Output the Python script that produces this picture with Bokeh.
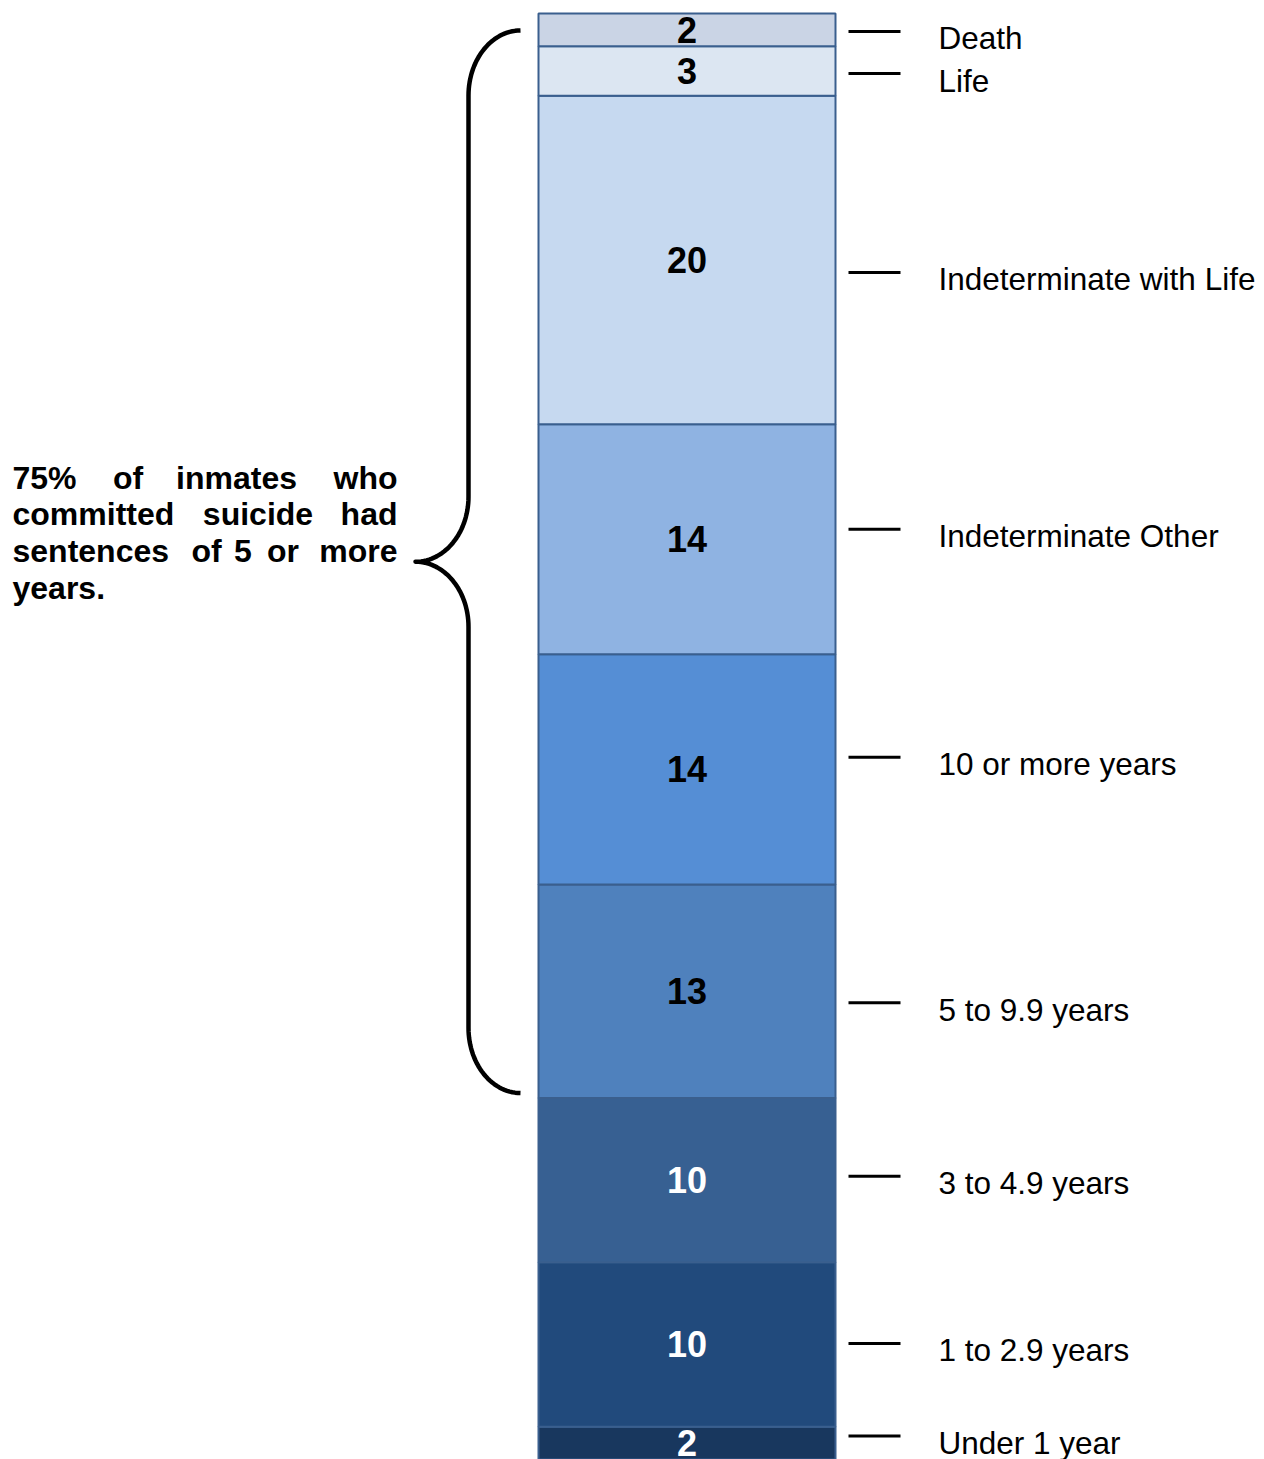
import math
from bokeh.plotting import figure
from bokeh.models import Range1d, ColumnDataSource
from bokeh.core.properties import value
from bokeh.embed import file_html
from bokeh.resources import INLINE

# ---------------- data (bottom to top) ----------------
categories = ["Under 1 year", "1 to 2.9 years", "3 to 4.9 years", "5 to 9.9 years",
              "10 or more years", "Indeterminate Other", "Indeterminate with Life",
              "Life", "Death"]
values = [2, 10, 10, 13, 14, 14, 20, 3, 2]
colors = ["#18375E", "#214A7C", "#376092", "#4F81BD", "#558ED5",
          "#8FB3E2", "#C6D9F0", "#DCE6F2", "#CAD4E5"]
number_colors = ["white", "white", "white", "black", "black",
                 "black", "black", "black", "black"]
# label dash offset (px, downward) from each segment's centre
label_nudge_px = [-7, -1, -4, 11.5, -12, -10, 12.5, 2.5, 1.5]
brace_first = "5 to 9.9 years"   # brace covers this category and everything above
note_lines = [["75%", "of", "inmates", "who"],
              ["committed", "suicide", "had"],
              ["sentences", "of", "5", "or", "more"],
              ["years."]]

# ---------------- geometry ----------------
W, H = 1264, 1459
PAGE_TOP = 0
BAR_TOP_PAGE = 13
total = sum(values)
ppu = (PAGE_TOP + H - BAR_TOP_PAGE) / total   # pixels per unit


def dy(px):
    return px / ppu


def page_to_v(ypage):
    return total - (ypage - BAR_TOP_PAGE) / ppu


def v_to_page(v):
    return BAR_TOP_PAGE + (total - v) * ppu


bottoms, tops = [], []
acc = 0
for v in values:
    bottoms.append(acc)
    acc += v
    tops.append(acc)
centers = [(b + t) / 2 for b, t in zip(bottoms, tops)]

p = figure(width=W, height=H, output_backend="svg", toolbar_location=None,
           x_range=Range1d(0, W), y_range=Range1d(0, total + dy(BAR_TOP_PAGE - PAGE_TOP)),
           min_border=0, min_border_left=0, min_border_right=0,
           min_border_top=0, min_border_bottom=0)
p.xaxis.visible = False
p.yaxis.visible = False
p.xgrid.visible = False
p.ygrid.visible = False
p.outline_line_color = None
p.background_fill_color = "white"
p.border_fill_color = "white"

FONT = value("Liberation Sans")
BAR_L, BAR_R = 538, 835
BAR_C = (BAR_L + BAR_R) / 2

src = ColumnDataSource(dict(bottom=bottoms, top=tops, color=colors, cat=categories,
                            val=[str(v) for v in values], center=centers,
                            ncol=number_colors))
p.quad(left=BAR_L, right=BAR_R, bottom="bottom", top="top", fill_color="color",
       line_color="#3A5F8E", line_width=2, source=src)

p.text(x=BAR_C, y="center", text="val", text_color="ncol", source=src,
       text_font=FONT, text_font_style="bold", text_font_size=value("36px"),
       text_align="center", text_baseline="middle")

# dashes and labels
dash_y = [c - dy(n) for c, n in zip(centers, label_nudge_px)]
lab_y = [d - dy(7) for d in dash_y]
p.segment(x0=848, x1=900, y0=dash_y, y1=dash_y, line_color="black", line_width=3)
p.text(x=[938] * len(categories), y=lab_y, text=categories, text_color="black",
       text_font=FONT, text_font_size=value("31.5px"),
       text_align="left", text_baseline="middle")

# ---------------- brace ----------------
i0 = categories.index(brace_first)
top_page = BAR_TOP_PAGE + 17
bot_page = v_to_page(bottoms[i0]) - 5
mid_page = (top_page + bot_page) / 2
XV, XE, XT = 468, 520, 415
RY = 65
N = 30
bx, by = [], []
for k in range(N + 1):
    t = k / N * math.pi / 2
    bx.append(XE - (XE - XV) * math.sin(t)); by.append(top_page + RY - RY * math.cos(t))
for k in range(N + 1):
    t = k / N * math.pi / 2
    bx.append(XT + (XV - XT) * math.cos(t)); by.append(mid_page - RY + RY * math.sin(t))
for k in range(N + 1):
    t = k / N * math.pi / 2
    bx.append(XT + (XV - XT) * math.sin(t)); by.append(mid_page + RY - RY * math.cos(t))
for k in range(N + 1):
    t = k / N * math.pi / 2
    bx.append(XE - (XE - XV) * math.cos(t)); by.append(bot_page - RY + RY * math.sin(t))
p.line(x=bx, y=[page_to_v(y) for y in by], line_color="black", line_width=4.5,
       line_join="round")

# ---------------- note (justified by hand) ----------------
LEFT, RIGHT = 12, 397
middle_word_x = [[127.5, 236], [257.5], [206, 242.5, 282.5], []]
line_offsets = [-84, -47.5, -11, 26]
for words, mids, off in zip(note_lines, middle_word_x, line_offsets):
    yv = page_to_v(mid_page + off)
    kw = dict(text_font=FONT, text_font_style="bold", text_font_size=value("32px"),
              text_color="black", text_baseline="middle")
    p.text(x=[LEFT], y=[yv], text=[words[0]], text_align="left", **kw)
    if len(words) > 1:
        p.text(x=[RIGHT], y=[yv], text=[words[-1]], text_align="right", **kw)
        if mids:
            p.text(x=mids, y=[yv] * len(mids), text=words[1:-1], text_align="center", **kw)

open("out.html", "w").write(file_html(p, INLINE))
